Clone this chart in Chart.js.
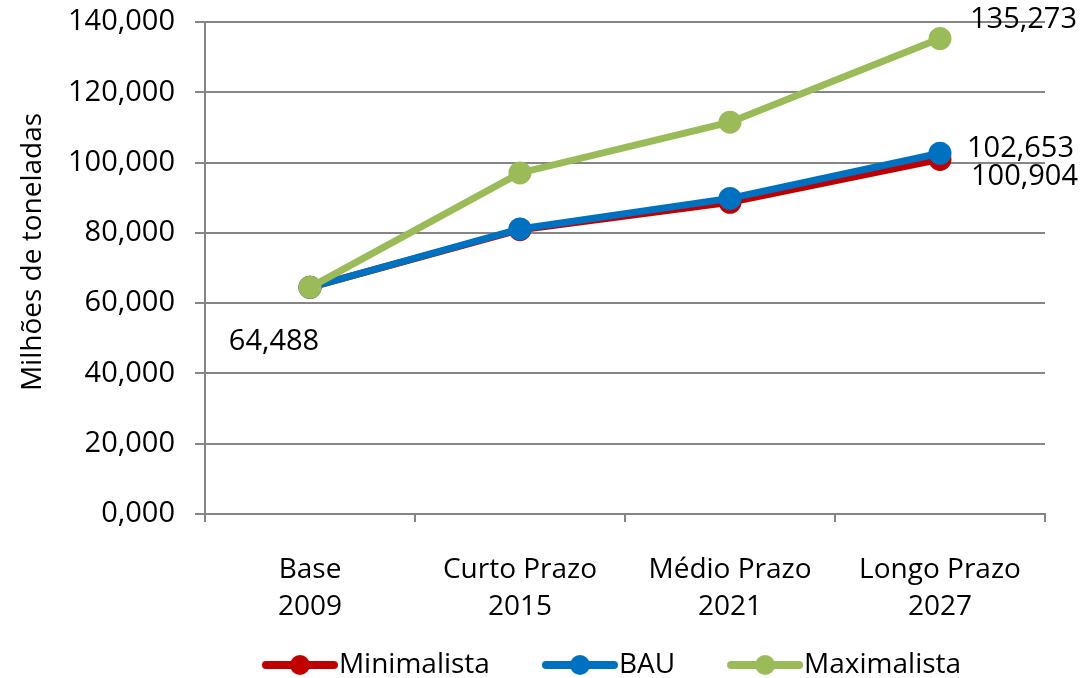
<!DOCTYPE html>
<html>
<head>
<meta charset="utf-8">
<script src="https://cdn.jsdelivr.net/npm/chart.js@4"></script>
<style>
  html, body { margin: 0; padding: 0; background: #fff; }
  #wrap { width: 1085px; height: 678px; }
</style>
</head>
<body>
<div id="wrap"><canvas id="myChart" width="1085" height="678"></canvas></div>
<script>
const categories = [['Base', '2009'], ['Curto Prazo', '2015'], ['Médio Prazo', '2021'], ['Longo Prazo', '2027']];
const minimalista = [64488, 80900, 88700, 100904];
const bau = [64488, 81100, 89800, 102653];
const maximalista = [64488, 97050, 111500, 135273];
const yTicks = [0, 20000, 40000, 60000, 80000, 100000, 120000, 140000];
const yTitle = 'Milhões de toneladas';

const FONT = '"Open Sans", "Noto Sans", sans-serif';
const gridColor = '#868686';
const GAP = 65;

function fmt(v) {
  return (v / 1000).toFixed(3).replace('.', ',');
}

// legend marker: line with a dot, with empty space on its left as item gap
function marker(color) {
  const c = document.createElement('canvas');
  c.width = GAP + 76; c.height = 22;
  const g = c.getContext('2d');
  g.strokeStyle = color;
  g.lineWidth = 8;
  g.lineCap = 'round';
  g.beginPath(); g.moveTo(GAP + 4, 11); g.lineTo(GAP + 72, 11); g.stroke();
  g.fillStyle = color;
  g.beginPath(); g.arc(GAP + 38, 11, 10, 0, Math.PI * 2); g.fill();
  return c;
}

// which points get a value label, and where
const labelSpots = [
  { ds: 0, idx: 0, dx: -36, dy: 54, align: 'center' },
  { ds: 0, idx: 3, dx: 31, dy: 17, align: 'left' },
  { ds: 1, idx: 3, dx: 27, dy: -5, align: 'left' },
  { ds: 2, idx: 3, dx: 30, dy: -19, align: 'left' }
];

const dataLabels = {
  id: 'dataLabels',
  afterLayout(chart) {
    // legend sits under the plot area, a little lower than default
    const lg = chart.legend;
    lg.left += 63; lg.right += 63;
    lg.top += 11; lg.bottom += 11;
  },
  afterDraw(chart) {
    const ctx = chart.ctx;
    ctx.save();
    ctx.font = '28px ' + FONT;
    ctx.fillStyle = '#000';
    ctx.textAlign = 'center';
    ctx.textBaseline = 'middle';
    ctx.translate(33, 252);
    ctx.rotate(-Math.PI / 2);
    ctx.fillText(yTitle, 0, 0);
    ctx.restore();
  },
  afterDatasetsDraw(chart) {
    const ctx = chart.ctx;
    ctx.save();
    ctx.font = '29px ' + FONT;
    ctx.fillStyle = '#000';
    ctx.textBaseline = 'middle';
    labelSpots.forEach((s) => {
      const pt = chart.getDatasetMeta(s.ds).data[s.idx];
      const v = chart.data.datasets[s.ds].data[s.idx];
      ctx.textAlign = s.align;
      ctx.fillText(fmt(v), pt.x + s.dx, pt.y + s.dy);
    });
    ctx.restore();
  }
};

function series(label, data, color, order) {
  return {
    label: label,
    data: data,
    borderColor: color,
    backgroundColor: color,
    pointBackgroundColor: color,
    pointBorderColor: color,
    borderWidth: 7,
    pointRadius: 8,
    pointHoverRadius: 8,
    tension: 0,
    order: order
  };
}

const ctx = document.getElementById('myChart');
const myChart = new Chart(ctx, {
  type: 'line',
  data: {
    labels: categories,
    datasets: [
      series('Minimalista', minimalista, '#C00000', 3),
      series('BAU', bau, '#0070C0', 2),
      series('Maximalista', maximalista, '#9BBB59', 1)
    ]
  },
  options: {
    responsive: false,
    animation: false,
    layout: { padding: { top: 22, right: 40, left: 0, bottom: 0 } },
    plugins: {
      tooltip: { enabled: false },
      legend: {
        position: 'bottom',
        labels: {
          usePointStyle: true,
          pointStyleWidth: GAP + 76 - 26,
          padding: 0,
          color: '#000',
          font: { family: FONT, size: 28 },
          generateLabels(chart) {
            return chart.data.datasets.map((d, i) => ({
              text: d.label,
              fillStyle: d.borderColor,
              strokeStyle: d.borderColor,
              fontColor: '#000',
              pointStyle: marker(d.borderColor),
              lineWidth: 0,
              hidden: false,
              datasetIndex: i
            }));
          }
        }
      }
    },
    scales: {
      x: {
        offset: true,
        grid: { offset: true, drawOnChartArea: false, drawTicks: true, tickLength: 8, color: gridColor, lineWidth: 2 },
        border: { color: gridColor, width: 2 },
        ticks: { color: '#000', font: { family: FONT, size: 28, lineHeight: 1.3 }, padding: 30, maxRotation: 0 },
        afterFit(scale) { scale.height = 126; }
      },
      y: {
        min: 0,
        max: 140000,
        afterBuildTicks(scale) { scale.ticks = yTicks.map((v) => ({ value: v })); },
        grid: { color: gridColor, lineWidth: 2, tickLength: 10 },
        border: { color: gridColor, width: 2 },
        ticks: { color: '#000', font: { family: FONT, size: 29 }, padding: 20, callback: (v) => fmt(v) },
        afterFit(scale) {
          scale.width = 205;
          scale.paddingTop = 0;
          scale.paddingBottom = 0;
        }
      }
    }
  },
  plugins: [dataLabels]
});
</script>
</body>
</html>
